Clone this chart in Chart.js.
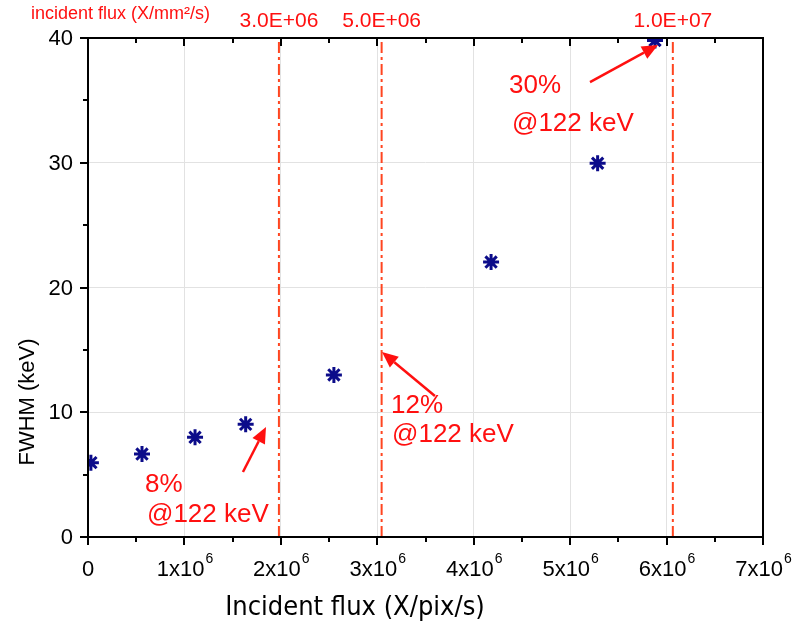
<!DOCTYPE html>
<html>
<head>
<meta charset="utf-8">
<script src="https://cdn.jsdelivr.net/npm/chart.js@4/dist/chart.umd.min.js"></script>
<style>
  body { margin: 0; background: #fff; }
  #wrap { width: 793px; height: 630px; }
</style>
</head>
<body>
<div id="wrap"><canvas id="fwhmChart" width="793" height="630"></canvas></div>
<script>
// measured points: incident flux (X/pix/s) vs FWHM (keV)
const fluxVals = [0.03e6, 0.56e6, 1.11e6, 1.635e6, 2.55e6, 4.18e6, 5.285e6, 5.88e6];
const fwhmVals = [5.96, 6.65, 7.99, 9.03, 12.99, 22.04, 29.96, 39.8];

// dash-dot markers and their labels in X/mm2/s
const markerX = [1.98e6, 3.045e6, 6.065e6];
const markerLabels = ['3.0E+06', '5.0E+06', '1.0E+07'];

// tick labels
const xTickVals = [0, 1e6, 2e6, 3e6, 4e6, 5e6, 6e6, 7e6];
const xTickLabels = ['0', '1x10^6', '2x10^6', '3x10^6', '4x10^6', '5x10^6', '6x10^6', '7x10^6'];
const yTickVals = [0, 10, 20, 30, 40];
const yTickLabels = ['0', '10', '20', '30', '40'];

// arrows (data coords) and resolution notes
const arrowFrom = [[1.607e6, 5.21], [3.598e6, 11.30], [5.206e6, 36.47]];
const arrowTo = [[1.846e6, 8.82], [3.049e6, 14.83], [5.911e6, 39.44]];
const noteText = ['8%', '@122 keV', '12%', '@122 keV', '30%', '@122 keV'];
const noteX = [0.591e6, 0.612e6, 3.142e6, 3.153e6, 4.366e6, 4.397e6];
const noteY = [3.61, 1.20, 9.94, 7.62, 35.59, 32.55];

const RED = '#ff1010';

const markerSets = markerX.map(x => ({
  data: [{ x: x, y: 0 }, { x: x, y: 40 }],
  showLine: true,
  pointRadius: 0,
  borderColor: '#ff4520',
  borderWidth: 2,
  borderDash: [11, 4, 3, 4],
  clip: 0
}));

const decorations = {
  id: 'decorations',
  afterDatasetsDraw(chart) {
    const ctx = chart.ctx;
    const xs = chart.scales.x, ys = chart.scales.y;
    const a = chart.chartArea;
    ctx.save();

    // frame
    ctx.strokeStyle = '#000';
    ctx.lineWidth = 2;
    ctx.strokeRect(a.left, a.top, a.right - a.left, a.bottom - a.top);

    // x ticks: outward at bottom, inward at top
    for (let v = 0; v <= 7e6; v += 0.5e6) {
      const px = Math.round(xs.getPixelForValue(v));
      const len = (v % 1e6 === 0) ? 8 : 5;
      ctx.beginPath();
      ctx.moveTo(px, a.bottom); ctx.lineTo(px, a.bottom + len);
      ctx.moveTo(px, a.top); ctx.lineTo(px, a.top + len);
      ctx.stroke();
    }
    // y ticks: outward on left
    for (let v = 0; v <= 40; v += 5) {
      const py = Math.round(ys.getPixelForValue(v));
      const len = (v % 10 === 0) ? 8 : 5;
      ctx.beginPath();
      ctx.moveTo(a.left, py); ctx.lineTo(a.left - len, py);
      ctx.stroke();
    }

    // x tick labels with superscript
    ctx.fillStyle = '#000';
    ctx.textBaseline = 'alphabetic';
    xTickVals.forEach((v, i) => {
      const parts = xTickLabels[i].split('^');
      const px = xs.getPixelForValue(v);
      ctx.font = '22px "Liberation Sans", Arial, sans-serif';
      const w1 = ctx.measureText(parts[0]).width;
      let w2 = 0;
      if (parts[1]) {
        ctx.font = '14px "Liberation Sans", Arial, sans-serif';
        w2 = ctx.measureText(parts[1]).width;
      }
      const left = px - (w1 + w2) / 2;
      ctx.font = '22px "Liberation Sans", Arial, sans-serif';
      ctx.textAlign = 'left';
      ctx.fillText(parts[0], left, 576);
      if (parts[1]) {
        ctx.font = '14px "Liberation Sans", Arial, sans-serif';
        ctx.fillText(parts[1], left + w1 + 1, 563);
      }
    });

    // y tick labels
    ctx.font = '22px "Liberation Sans", Arial, sans-serif';
    ctx.textAlign = 'right';
    ctx.textBaseline = 'middle';
    yTickVals.forEach((v, i) => {
      ctx.fillText(yTickLabels[i], 73, ys.getPixelForValue(v) + 1);
    });

    // axis titles
    ctx.font = '27px "DejaVu Sans Condensed", "DejaVu Sans", sans-serif';
    ctx.textAlign = 'center';
    ctx.fillText('Incident flux (X/pix/s)', 355, 608);
    ctx.save();
    ctx.translate(28, 402);
    ctx.rotate(-Math.PI / 2);
    ctx.font = '22px "Liberation Sans", Arial, sans-serif';
    ctx.fillText('FWHM (keV)', 0, 0);
    ctx.restore();

    // top labels in red
    ctx.fillStyle = RED;
    ctx.textBaseline = 'alphabetic';
    ctx.font = '18px "Liberation Sans", Arial, sans-serif';
    ctx.textAlign = 'left';
    ctx.fillText('incident flux (X/mm\u00b2/s)', 31, 19);
    ctx.font = '21px "Liberation Sans", Arial, sans-serif';
    ctx.textAlign = 'center';
    markerX.forEach((x, i) => {
      ctx.fillText(markerLabels[i], xs.getPixelForValue(x), 27);
    });

    // arrows
    ctx.strokeStyle = RED;
    ctx.lineWidth = 2.5;
    arrowFrom.forEach((f, i) => {
      const x0 = xs.getPixelForValue(f[0]), y0 = ys.getPixelForValue(f[1]);
      const x1 = xs.getPixelForValue(arrowTo[i][0]), y1 = ys.getPixelForValue(arrowTo[i][1]);
      const ang = Math.atan2(y1 - y0, x1 - x0);
      const hl = 16, hw = 7;
      const bx = x1 - hl * Math.cos(ang), by = y1 - hl * Math.sin(ang);
      ctx.beginPath();
      ctx.moveTo(x0, y0); ctx.lineTo(bx, by);
      ctx.stroke();
      ctx.beginPath();
      ctx.moveTo(x1, y1);
      ctx.lineTo(bx + hw * Math.sin(ang), by - hw * Math.cos(ang));
      ctx.lineTo(bx - hw * Math.sin(ang), by + hw * Math.cos(ang));
      ctx.closePath();
      ctx.fill();
    });

    // notes
    ctx.font = '26px "Liberation Sans", Arial, sans-serif';
    ctx.textAlign = 'left';
    noteText.forEach((t, i) => {
      ctx.fillText(t, xs.getPixelForValue(noteX[i]), ys.getPixelForValue(noteY[i]));
    });

    ctx.restore();
  }
};

new Chart(document.getElementById('fwhmChart').getContext('2d'), {
  type: 'scatter',
  data: {
    datasets: [
      {
        label: 'FWHM',
        data: fluxVals.map((x, i) => ({ x: x, y: fwhmVals[i] })),
        pointStyle: 'star',
        pointRadius: 8,
        pointBorderWidth: 3,
        borderColor: '#0c0c8a',
        backgroundColor: '#0c0c8a',
        clip: 0
      },
      ...markerSets
    ]
  },
  options: {
    responsive: false,
    animation: false,
    events: [],
    layout: { padding: { top: 38, right: 30, left: 0, bottom: 0 } },
    plugins: { legend: { display: false }, tooltip: { enabled: false } },
    scales: {
      x: {
        type: 'linear',
        min: 0,
        max: 7e6,
        ticks: { display: false, stepSize: 1e6 },
        grid: { color: '#e2e2e2', lineWidth: 1, drawTicks: false },
        border: { display: false },
        afterFit: s => { s.height = 93; }
      },
      y: {
        min: 0,
        max: 40,
        ticks: { display: false, stepSize: 10 },
        grid: { color: '#e2e2e2', lineWidth: 1, drawTicks: false },
        border: { display: false },
        afterFit: s => { s.width = 88; }
      }
    }
  },
  plugins: [decorations]
});
</script>
</body>
</html>
